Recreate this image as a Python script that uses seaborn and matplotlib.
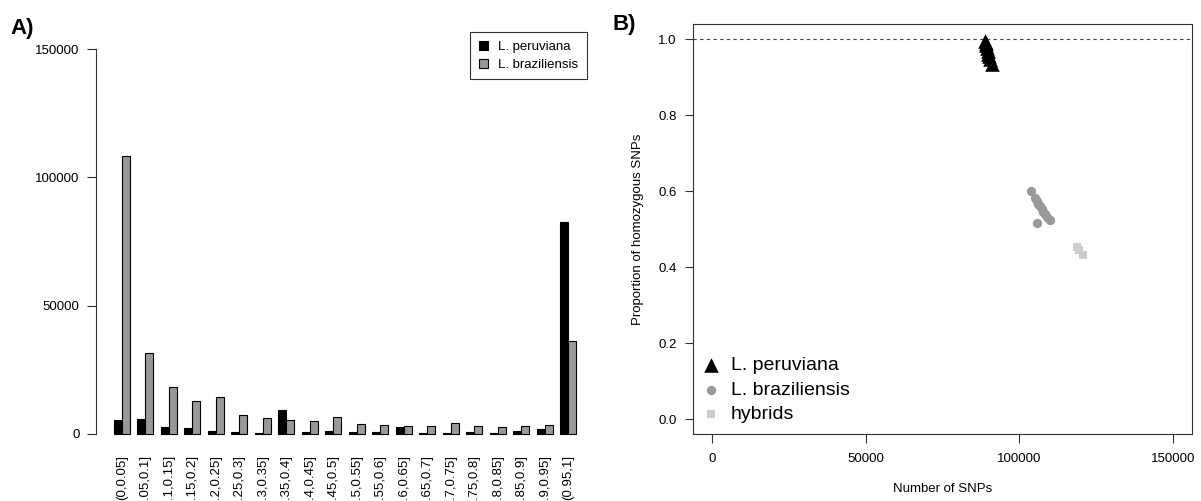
import matplotlib
matplotlib.use("Agg")
import matplotlib.pyplot as plt
import seaborn as sns
import pandas as pd
import numpy as np

# ---------------- data ----------------
bins = ["(0,0.05]", "(0.05,0.1]", "(0.1,0.15]", "(0.15,0.2]", "(0.2,0.25]",
        "(0.25,0.3]", "(0.3,0.35]", "(0.35,0.4]", "(0.4,0.45]", "(0.45,0.5]",
        "(0.5,0.55]", "(0.55,0.6]", "(0.6,0.65]", "(0.65,0.7]", "(0.7,0.75]",
        "(0.75,0.8]", "(0.8,0.85]", "(0.85,0.9]", "(0.9,0.95]", "(0.95,1]"]
peruviana_counts = [5450, 5700, 2600, 2300, 1300, 800, 500, 9350, 600, 1300,
                    650, 650, 2600, 200, 200, 650, 450, 1150, 1950, 82700]
braziliensis_counts = [108300, 31400, 18200, 12900, 14500, 7500, 6200, 5450, 4900, 6700,
                       3750, 3500, 3100, 3000, 4400, 3000, 2700, 3000, 3400, 36200]
species = ["L. peruviana", "L. braziliensis"]

per_snps = [88900, 89100, 89300, 89500, 89700, 89900, 90200, 90500, 91100]
per_hom = [0.996, 0.991, 0.985, 0.976, 0.968, 0.962, 0.955, 0.947, 0.935]

bra_snps = [103900, 105200, 105700, 106200, 106700, 107200, 107800, 108400, 109000, 109800, 105700]
bra_hom = [0.600, 0.581, 0.574, 0.567, 0.560, 0.553, 0.546, 0.539, 0.532, 0.524, 0.515]

hyb_snps = [118700, 119500, 120600]
hyb_hom = [0.454, 0.445, 0.433]

groups = ["L. peruviana", "L. braziliensis", "hybrids"]

# ---------------- style ----------------
sns.set_theme(style="white")
plt.rcParams["font.family"] = ["Liberation Sans", "DejaVu Sans"]
plt.rcParams["axes.linewidth"] = 0.8
for k in ["text.color", "axes.labelcolor", "xtick.color", "ytick.color"]:
    plt.rcParams[k] = "black"

W, H = 1201, 501
fig = plt.figure(figsize=(W / 100, H / 100), dpi=100)

# ---------------- panel A ----------------
axA = fig.add_axes([95.5 / W, (H - 449.4) / H, 499 / W, 415.8 / H])
dfA = pd.DataFrame({
    "bin": bins * 2,
    "species": [species[0]] * len(bins) + [species[1]] * len(bins),
    "count": peruviana_counts + braziliensis_counts,
})
sns.barplot(data=dfA, x="bin", y="count", hue="species", order=bins,
            hue_order=species, palette=["black", "#999999"], saturation=1,
            edgecolor="black", linewidth=0.8, width=2 / 3, errorbar=None, ax=axA)
axA.set_xlim(-1.12, 20.12)
axA.set_ylim(-6000, 156000)
for s in ["top", "right", "bottom"]:
    axA.spines[s].set_visible(False)
axA.spines["left"].set_bounds(0, 150000)
axA.spines["left"].set_color("#333333")
axA.set_yticks([0, 50000, 100000, 150000])
axA.set_yticklabels(["0", "50000", "100000", "150000"])
axA.tick_params(axis="y", length=6.5, width=0.8, pad=5, labelsize=9.5, left=True,
                color="#333333", labelcolor="black")
axA.set_xticks(range(len(bins)))
axA.set_xticklabels(bins, rotation=90)
axA.tick_params(axis="x", length=0, pad=4, labelsize=9.5, labelcolor="black")
axA.set_xlabel("")
axA.set_ylabel("")
handles, labels = axA.get_legend_handles_labels()
legA = axA.legend(handles, labels, loc="upper right", bbox_to_anchor=(0.985, 1.004),
                  frameon=True, fancybox=False, edgecolor="black", fontsize=9.5,
                  handlelength=0.7, handleheight=0.7, handletextpad=0.8,
                  borderpad=0.65, labelspacing=0.45, borderaxespad=0)
legA.get_frame().set_linewidth(0.8)

# ---------------- panel B ----------------
axB = fig.add_axes([693.3 / W, (H - 434.3) / H, 498.4 / W, 410.3 / H])
axB.axhline(1.0, ls=(0, (3, 3)), color="#444444", lw=0.8, zorder=1)
sns.scatterplot(x=per_snps, y=per_hom, marker="^", color="black", s=110,
                linewidth=0, label=groups[0], ax=axB, zorder=3)
sns.scatterplot(x=bra_snps, y=bra_hom, marker="o", color="#999999", s=45,
                linewidth=0, label=groups[1], ax=axB, zorder=3)
sns.scatterplot(x=hyb_snps, y=hyb_hom, marker="s", color="#cccccc", s=40,
                linewidth=0, label=groups[2], ax=axB, zorder=3)
axB.set_xlim(-6000, 156000)
axB.set_ylim(-0.04, 1.04)
for s in axB.spines.values():
    s.set_visible(True)
    s.set_color("#333333")
    s.set_linewidth(0.8)
axB.set_xticks([0, 50000, 100000, 150000])
axB.set_xticklabels(["0", "50000", "100000", "150000"])
axB.set_yticks([0.0, 0.2, 0.4, 0.6, 0.8, 1.0])
axB.set_yticklabels(["0.0", "0.2", "0.4", "0.6", "0.8", "1.0"])
axB.tick_params(axis="x", length=6.5, width=0.8, pad=7, labelsize=9.5, bottom=True,
                color="#333333", labelcolor="black")
axB.tick_params(axis="y", length=6, width=0.8, pad=6, labelsize=9.5, left=True,
                color="#333333", labelcolor="black")
axB.set_xlabel("Number of SNPs", fontsize=9.5, color="black")
axB.set_ylabel("Proportion of homozygous SNPs", fontsize=9.5, color="black")
axB.xaxis.set_label_coords(0.5, -0.118)
axB.yaxis.set_label_coords(-0.099, 0.5)
legB = axB.legend(loc="lower left", bbox_to_anchor=(0.0167, 0.027), frameon=False,
                  fontsize=14, borderaxespad=0, borderpad=0, handlelength=1.0,
                  handletextpad=0.5, labelspacing=0.36)

fig.text(10 / W, 1 - 34 / H, "A)", fontsize=16, fontweight="bold", va="baseline", ha="left")
fig.text(612 / W, 1 - 30 / H, "B)", fontsize=16, fontweight="bold", va="baseline", ha="left")

fig.savefig("out.png", dpi=100)
